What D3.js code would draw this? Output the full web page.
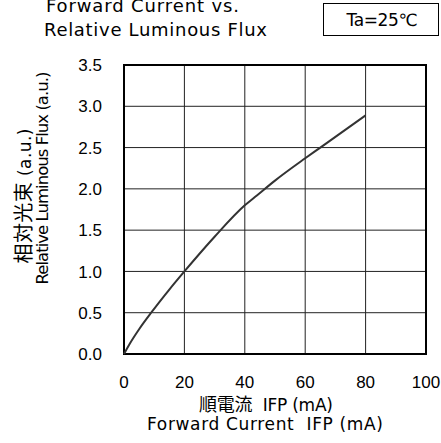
<!DOCTYPE html>
<html>
<head>
<meta charset="utf-8">
<script src="https://cdn.jsdelivr.net/npm/d3@7"></script>
<style>
  body { margin: 0; background: #fff; }
  text { font-family: "DejaVu Sans", "Noto Sans CJK JP", sans-serif; fill: #000; }
  .tick { font-family: "Liberation Sans", Arial, sans-serif; }
  .jp { font-family: "Noto Sans CJK JP", sans-serif; }
</style>
</head>
<body>
<svg id="chart" width="441" height="443"></svg>
<script>
// Datos
const currentMA = [0, 2, 5, 9, 15, 20, 30, 40, 44, 50, 60, 65, 70, 80];
const fluxRel   = [0, 0.13, 0.3, 0.5, 0.78, 1.0, 1.42, 1.8, 1.92, 2.1, 2.37, 2.5, 2.63, 2.89];
const xTicks = [0, 20, 40, 60, 80, 100];
const yTicks = [0, 0.5, 1.0, 1.5, 2.0, 2.5, 3.0, 3.5];

const svg = d3.select("#chart");
const plot = { left: 124, right: 426, top: 65, bottom: 354 };

const x = d3.scaleLinear().domain([0, 100]).range([plot.left, plot.right]);
const y = d3.scaleLinear().domain([0, 3.5]).range([plot.bottom, plot.top]);

// Rejilla
svg.append("g")
    .selectAll("line")
    .data(xTicks)
    .enter().append("line")
    .attr("x1", d => x(d)).attr("x2", d => x(d))
    .attr("y1", plot.top).attr("y2", plot.bottom)
    .attr("stroke", "#222").attr("stroke-width", 1);

svg.append("g")
    .selectAll("line")
    .data(yTicks)
    .enter().append("line")
    .attr("x1", plot.left).attr("x2", plot.right)
    .attr("y1", d => y(d)).attr("y2", d => y(d))
    .attr("stroke", "#222").attr("stroke-width", 1);

// Marco
svg.append("rect")
    .attr("x", plot.left).attr("y", plot.top)
    .attr("width", plot.right - plot.left)
    .attr("height", plot.bottom - plot.top)
    .attr("fill", "none").attr("stroke", "#000").attr("stroke-width", 2);

// Curva
const line = d3.line()
    .x((d, i) => x(currentMA[i]))
    .y(d => y(d))
    .curve(d3.curveMonotoneX);

svg.append("path")
    .attr("d", line(fluxRel))
    .attr("fill", "none")
    .attr("stroke", "#333")
    .attr("stroke-width", 2);

// Etiquetas de los ejes
svg.append("g")
    .selectAll("text")
    .data(yTicks)
    .enter().append("text")
    .attr("class", "tick")
    .attr("x", 102).attr("y", d => y(d))
    .attr("dy", "0.36em")
    .attr("text-anchor", "end")
    .attr("font-size", "17px")
    .text(d => d.toFixed(1));

svg.append("g")
    .selectAll("text")
    .data(xTicks)
    .enter().append("text")
    .attr("class", "tick")
    .attr("x", d => x(d)).attr("y", 388)
    .attr("text-anchor", "middle")
    .attr("font-size", "17px")
    .text(d => d);

// Títulos de los ejes
svg.append("text")
    .attr("x", 266).attr("y", 411)
    .attr("text-anchor", "middle")
    .attr("font-size", "17px")
    .attr("textLength", 134)
    .attr("lengthAdjust", "spacing")
    .html('<tspan class="jp" font-size="18px">順電流</tspan>\u00a0\u00a0IFP (mA)');

svg.append("text")
    .attr("x", 265).attr("y", 430)
    .attr("text-anchor", "middle")
    .attr("font-size", "17px")
    .attr("textLength", 236)
    .attr("lengthAdjust", "spacing")
    .text("Forward Current\u00a0\u00a0IFP (mA)");

svg.append("text")
    .attr("transform", "translate(31,196) rotate(-90)")
    .attr("text-anchor", "middle")
    .attr("font-size", "17px")
    .attr("textLength", 135)
    .attr("lengthAdjust", "spacing")
    .html('<tspan class="jp" font-size="20px">相対光束</tspan> (a.u.)');

svg.append("text")
    .attr("transform", "translate(48,178) rotate(-90)")
    .attr("text-anchor", "middle")
    .attr("font-size", "16.5px")
    .attr("textLength", 213)
    .attr("lengthAdjust", "spacing")
    .text("Relative Luminous Flux (a.u.)");

// Título
svg.append("text")
    .attr("x", 46).attr("y", 12)
    .attr("font-size", "18px")
    .attr("textLength", 193)
    .attr("lengthAdjust", "spacing")
    .text("Forward Current vs.");

svg.append("text")
    .attr("x", 44).attr("y", 36)
    .attr("font-size", "18px")
    .attr("textLength", 223)
    .attr("lengthAdjust", "spacing")
    .text("Relative Luminous Flux");

// Recuadro de temperatura
svg.append("rect")
    .attr("x", 323.5).attr("y", 3.5)
    .attr("width", 115).attr("height", 32)
    .attr("fill", "none").attr("stroke", "#000").attr("stroke-width", 1);

svg.append("text")
    .attr("x", 382).attr("y", 26)
    .attr("text-anchor", "middle")
    .attr("font-size", "17px")
    .attr("textLength", 71)
    .attr("lengthAdjust", "spacing")
    .text("Ta=25℃");
</script>
</body>
</html>
